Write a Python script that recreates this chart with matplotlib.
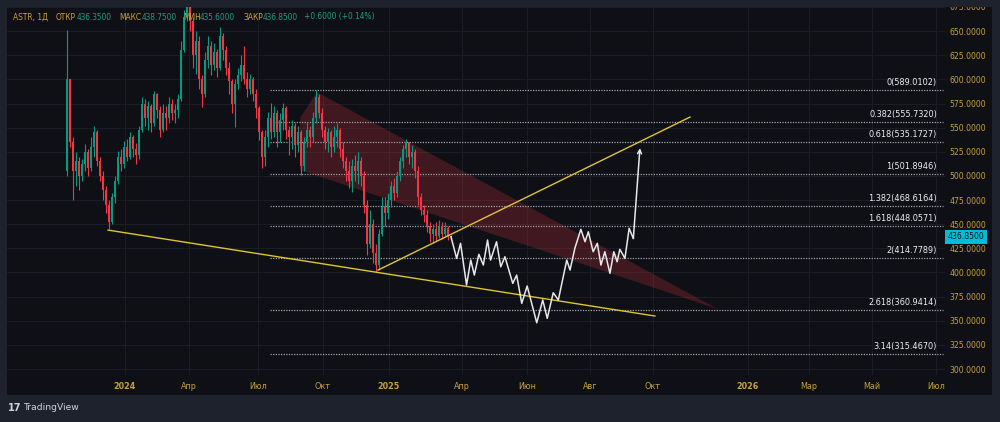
import numpy as np
import matplotlib
matplotlib.use('Agg')
import matplotlib.pyplot as plt
from matplotlib.patches import Rectangle, Polygon
from matplotlib.transforms import blended_transform_factory

plt.rcParams['font.family'] = ['DejaVu Sans']

# Свечи ASTR, 1Д (одна свеча здесь ~ 3 торговых дня), цены в рублях
first_open = 505.0
close = [600, 535, 505, 515, 500, 512, 525, 508, 530, 545,
         515, 500, 485, 470, 452, 478, 495, 520, 512, 530,
         520, 540, 528, 522, 548, 575, 560, 572, 555, 585,
         568, 548, 565, 560, 575, 565, 568, 580, 630, 665,
         685, 660, 625, 640, 600, 585, 620, 635, 615, 628,
         612, 645, 630, 612, 598, 575, 595, 605, 615, 600,
         590, 600, 585, 570, 545, 520, 540, 560, 545, 565,
         545, 558, 570, 548, 540, 552, 532, 545, 510, 535,
         548, 540, 560, 582, 565, 548, 535, 545, 530, 540,
         548, 528, 515, 505, 495, 510, 505, 515, 500, 470,
         430, 450, 420, 408, 440, 468, 462, 475, 490, 482,
         500, 515, 528, 535, 520, 525, 505, 478, 465, 460,
         448, 440, 445, 438, 448, 440, 446, 436.35, 436.85]
high = [651, 592, 540, 525, 520, 518, 533, 528, 540, 552,
        548, 520, 505, 490, 475, 482, 500, 526, 528, 536,
        538, 545, 542, 534, 552, 582, 580, 578, 575, 588,
        586, 572, 575, 572, 582, 580, 575, 585, 640, 672,
        695, 690, 665, 650, 645, 605, 628, 645, 640, 638,
        632, 654, 648, 635, 618, 600, 600, 612, 625, 635,
        608, 606, 602, 590, 572, 548, 548, 566, 576, 572,
        568, 565, 576, 572, 552, 558, 555, 552, 548, 540,
        556, 552, 566, 589, 585, 570, 552, 550, 548, 552,
        555, 550, 535, 520, 515, 518, 522, 525, 520, 505,
        475, 465, 455, 430, 445, 478, 478, 482, 495, 498,
        505, 520, 532, 538, 535, 532, 528, 510, 482, 470,
        465, 452, 450, 452, 454, 452, 452, 448, 438.75]
low = [500, 530, 475, 490, 485, 495, 505, 500, 505, 520,
       510, 495, 475, 462, 445, 450, 472, 492, 505, 508,
       515, 518, 520, 512, 518, 545, 552, 548, 545, 552,
       560, 540, 545, 548, 555, 558, 555, 560, 578, 628,
       660, 650, 612, 606, 590, 571, 582, 612, 605, 610,
       603, 610, 620, 605, 585, 565, 551, 590, 598, 595,
       582, 585, 578, 560, 537, 508, 510, 530, 538, 540,
       530, 535, 548, 538, 522, 528, 520, 525, 501, 505,
       530, 530, 535, 555, 560, 540, 528, 525, 520, 525,
       530, 520, 508, 495, 488, 483, 495, 492, 490, 462,
       418, 425, 410, 401, 403, 438, 448, 455, 468, 475,
       478, 495, 508, 520, 512, 508, 498, 470, 460, 452,
       442, 432, 431, 433, 436, 435, 437, 434, 435.6]

# Уровни Фибоначчи
fib_ratio = ['0', '0.382', '0.618', '1', '1.382', '1.618', '2', '2.618', '3.14']
fib_price = [589.0102, 555.7320, 535.1727, 501.8946, 468.6164,
             448.0571, 414.7789, 360.9414, 315.4670]
fib_start, fib_end = 67.7, 292.0

# Трендовые линии
support_x, support_y = [13.7, 196.0], [443.9, 354.9]
rising_x, rising_y = [103.7, 207.7], [402.5, 561.0]

# Нисходящий канал (заливка)
channel_x = [77.7, 83.3, 217.0, 77.7]
channel_y = [559.9, 586.8, 362.1, 506.1]

# Прогнозный путь
path_x = [128.0, 129.9, 131.2, 133.2, 134.6, 135.8, 137.3, 138.8, 140.2, 141.2,
          143.2, 144.6, 146.0, 148.6, 149.9, 151.6, 153.4, 156.6, 158.6, 160.1,
          162.1, 163.8, 166.6, 167.7, 169.3, 171.3, 172.7, 173.8, 175.4, 176.8,
          178.0, 179.3, 181.0, 182.3, 183.4, 184.3, 186.0, 187.4, 188.8, 191.0]
path_y = [437.0, 414.6, 430.2, 387.0, 412.9, 397.3, 418.8, 407.7, 433.6, 412.9,
          431.8, 405.9, 416.3, 388.7, 397.3, 368.0, 386.0, 347.9, 371.5, 352.5,
          379.0, 371.5, 412.9, 402.5, 425.0, 444.7, 431.8, 442.2, 421.5, 430.2,
          407.7, 421.5, 399.1, 421.5, 411.1, 424.0, 414.6, 445.7, 435.3, 528.8]

tick_pos = [19.3, 40.7, 63.7, 85.3, 107.3, 131.7, 153.3, 174.3, 195.3,
            227.0, 247.3, 268.3, 289.7]
tick_lab = ['2024', 'Апр', 'Июл', 'Окт', '2025', 'Апр', 'Июн', 'Авг', 'Окт',
            '2026', 'Мар', 'Май', 'Июл']
price_ticks = np.arange(300, 676, 25)
last_price = 436.85

# заголовок: текст, цвет, x в пикселях
header = [('ASTR, 1Д', 'gold', 13), ('ОТКР', 'gold', 56), ('436.3500', 'teal', 77),
          ('МАКС', 'gold', 119), ('438.7500', 'teal', 142), ('МИН', 'gold', 183),
          ('435.6000', 'teal', 200), ('ЗАКР', 'gold', 243), ('436.8500', 'teal', 263),
          ('+0.6000 (+0.14%)', 'teal', 304)]

outer = '#1e222d'
panel = '#0f1015'
colors = {'gold': '#c9a03d', 'teal': '#1f9c88'}
up_col = '#089981'
dn_col = '#f23645'

fig = plt.figure(figsize=(10, 4.22), dpi=100, facecolor=outer)
fig.patches.append(Rectangle((7/1000, 1-395/422), 985/1000, 388/422,
                             transform=fig.transFigure, fc=panel, ec='none', zorder=-1))
ax = fig.add_axes([7/1000, 1-375/422, 938/1000, 368/422])
ax.set_facecolor(panel)
for s in ax.spines.values():
    s.set_visible(False)

ax.set_xlim(-20, 292.7)
ax.set_ylim(293.8, 674.9)

ax.set_xticks(tick_pos)
ax.set_xticklabels(tick_lab)
for lab in ax.get_xticklabels():
    if lab.get_text().isdigit():
        lab.set_fontweight('bold')
ax.set_yticks(price_ticks)
ax.set_yticklabels(['%.4f' % p for p in price_ticks])
ax.yaxis.tick_right()
ax.tick_params(axis='x', length=0, pad=5, colors=colors['gold'], labelsize=5.8)
ax.tick_params(axis='y', length=0, pad=3, colors=colors['gold'], labelsize=5.6)
ax.grid(True, color='#1b1e26', lw=0.7)
ax.set_axisbelow(True)

# канал
ax.add_patch(Polygon(list(zip(channel_x, channel_y)), closed=True,
                     fc=dn_col, alpha=0.22, ec='none', zorder=1))

# свечи
opens = [first_open] + close[:-1]
xs = np.arange(len(close))
cols = [up_col if c >= o else dn_col for o, c in zip(opens, close)]
ax.vlines(xs, low, high, colors=cols, lw=0.8, zorder=3)
bottoms = np.minimum(opens, close)
heights = np.maximum(np.abs(np.array(close) - np.array(opens)), 0.8)
ax.bar(xs, heights, bottom=bottoms, width=0.62, color=cols, lw=0, zorder=3)

# Фибоначчи
for r, p in zip(fib_ratio, fib_price):
    ax.plot([fib_start, fib_end], [p, p], color='#9fa2aa', lw=0.9,
            ls=(0, (1, 1.1)), zorder=2)
    ax.annotate('%s(%.4f)' % (r, p), xy=(290, p), xytext=(0, 2.2),
                textcoords='offset points', ha='right', va='bottom',
                color='#eeeff1', fontsize=5.9, zorder=4)

# трендовые линии
ax.plot(support_x, support_y, color='#e0c431', lw=1.0, zorder=4)
ax.plot(rising_x, rising_y, color='#e0c431', lw=1.0, zorder=4)

# прогноз
ax.plot(path_x[:-1], path_y[:-1], color='#e8e8e8', lw=1.1, zorder=5)
ax.annotate('', xy=(path_x[-1], path_y[-1]), xytext=(path_x[-2], path_y[-2]),
            arrowprops=dict(arrowstyle='->', color='#e8e8e8', lw=1.1,
                            shrinkA=0, shrinkB=0, mutation_scale=7), zorder=5)

# текущая цена
tr = blended_transform_factory(ax.transAxes, ax.transData)
ax.text(1.003, last_price, '%.4f' % last_price, transform=tr, ha='left', va='center',
        fontsize=5.6, color='#10141c', clip_on=False, zorder=6,
        bbox=dict(boxstyle='square,pad=0.3', fc='#00bcd4', ec='none'))

# верхняя рамка поверх обрезанной подписи
fig.patches.append(Rectangle((0, 1-7/422), 1, 7/422, transform=fig.transFigure,
                             fc=outer, ec='none', zorder=10))

for txt, col, xp in header:
    fig.text(xp/1000, 1-17/422, txt, color=colors[col], fontsize=5.45,
             ha='left', va='center', zorder=11)

# логотип
fig.text(8/1000, 1-408/422, '17', color='#d1d4dc', fontsize=7, fontweight='bold',
         ha='left', va='center')
fig.text(24/1000, 1-408/422, 'TradingView', color='#d1d4dc', fontsize=6.6,
         ha='left', va='center')

fig.savefig('out.png', dpi=100, facecolor=outer)
